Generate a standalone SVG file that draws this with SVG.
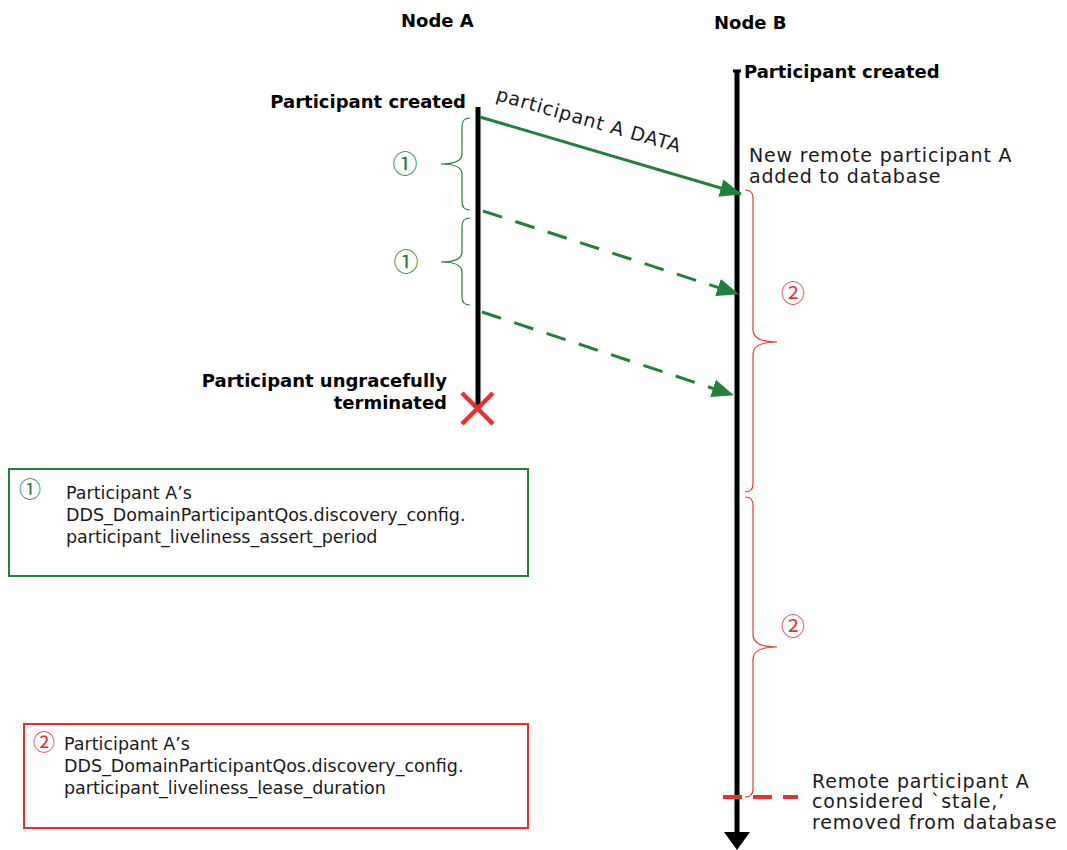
<svg xmlns="http://www.w3.org/2000/svg" width="1067" height="850" viewBox="0 0 1067 850">
<style>
.b{font-family:"DejaVu Sans","Liberation Sans",sans-serif;font-weight:bold;font-size:18px;fill:#000}
.r{font-family:"DejaVu Sans","Liberation Sans",sans-serif;font-size:19px;letter-spacing:0.8px;fill:#1a1a1a}
.s{font-family:"DejaVu Sans","Liberation Sans",sans-serif;font-size:17.5px;fill:#1a1a1a}
.cg{font-family:"Noto Sans CJK JP","DejaVu Sans",sans-serif;fill:#23803c}
.cr{font-family:"Noto Sans CJK JP","DejaVu Sans",sans-serif;fill:#e8312f}
.life{stroke:#000;stroke-width:5;fill:none}
.msg{stroke:#23803c;stroke-width:3;fill:none}
.dash{stroke-dasharray:20 14}
.gbr{stroke:#23803c;stroke-width:1.2;fill:none}
.rbr{stroke:#ee3333;stroke-width:1.2;fill:none}
</style>
<defs>
<marker id="ga" viewBox="0 0 22 18" refX="21" refY="9" markerWidth="22" markerHeight="18" markerUnits="userSpaceOnUse" orient="auto"><path d="M0,0 L22,9 L0,18 z" fill="#23803c"/></marker>
</defs>
<rect width="1067" height="850" fill="#fff"/>
<g id="nodeA">
<text class="b" x="401" y="27">Node A</text>
<text class="b" x="466" y="108" text-anchor="end">Participant created</text>
<line class="life" x1="478" y1="107" x2="478" y2="407"/>
<text class="b" x="447" y="387" text-anchor="end">Participant ungracefully</text>
<text class="b" x="447" y="409" text-anchor="end">terminated</text>
<path d="M462,393 L493,424 M493,393 L462,424" stroke="#e8312f" stroke-width="4.5" fill="none"/>
</g>
<g id="nodeB">
<text class="b" x="714" y="29">Node B</text>
<line x1="733" y1="71" x2="741" y2="71" stroke="#000" stroke-width="3"/>
<line class="life" x1="737" y1="70" x2="737" y2="834"/>
<path d="M724,832 L750,832 L737,850 z" fill="#000"/>
<text class="b" x="744" y="78">Participant created</text>
<text class="r" x="749" y="162">New remote participant A</text>
<text class="r" x="749" y="183">added to database</text>
<text class="r" x="812" y="788">Remote participant A</text>
<text class="r" x="812" y="808">considered `stale,’</text>
<text class="r" x="812" y="829">removed from database</text>
</g>
<g id="braces">
<path class="gbr" d="M470,118 Q462,118 462,126 L462,154 Q462,164 441,164 Q462,164 462,174 L462,202 Q462,210 470,210"/>
<path class="gbr" d="M470,218 Q462,218 462,226 L462,252 Q462,262 441,262 Q462,262 462,272 L462,297 Q462,305 470,305"/>
<text class="cg" x="405" y="173" font-size="25" text-anchor="middle">①</text>
<text class="cg" x="406" y="271" font-size="25" text-anchor="middle">①</text>
<path class="rbr" d="M745,190 Q753,190 753,198 L753,330 Q753,342 777,342 Q753,342 753,354 L753,484 Q753,492 745,492"/>
<path class="rbr" d="M745,497 Q753,497 753,505 L753,635 Q753,647 777,647 Q753,647 753,659 L753,789 Q753,797 745,797"/>
<text class="cr" x="793" y="302" font-size="24" text-anchor="middle">②</text>
<text class="cr" x="793" y="635" font-size="24" text-anchor="middle">②</text>
</g>
<g id="connectors">
<line class="msg" x1="480" y1="117" x2="741" y2="194" marker-end="url(#ga)"/>
<text class="r" transform="translate(495,100) rotate(16)">participant A DATA</text>
<line class="msg dash" x1="483" y1="211" x2="738" y2="294" marker-end="url(#ga)"/>
<line class="msg dash" x1="482" y1="312" x2="733" y2="395" marker-end="url(#ga)"/>
<line x1="723" y1="797" x2="798" y2="797" stroke="#e8312f" stroke-width="4" stroke-dasharray="19 11"/>
</g>
<g id="legend1">
<rect x="9" y="469" width="519" height="107" fill="none" stroke="#23803c" stroke-width="2"/>
<text class="cg" x="30" y="497" font-size="22" text-anchor="middle">①</text>
<text class="s" x="66" y="499">Participant A’s</text>
<text class="s" x="66" y="521">DDS_DomainParticipantQos.discovery_config.</text>
<text class="s" x="66" y="543">participant_liveliness_assert_period</text>
</g>
<g id="legend2">
<rect x="24" y="724" width="504" height="104" fill="none" stroke="#e8312f" stroke-width="2"/>
<text class="cr" x="44" y="750" font-size="22" text-anchor="middle">②</text>
<text class="s" x="64" y="750">Participant A’s</text>
<text class="s" x="64" y="772">DDS_DomainParticipantQos.discovery_config.</text>
<text class="s" x="64" y="794">participant_liveliness_lease_duration</text>
</g>
</svg>
